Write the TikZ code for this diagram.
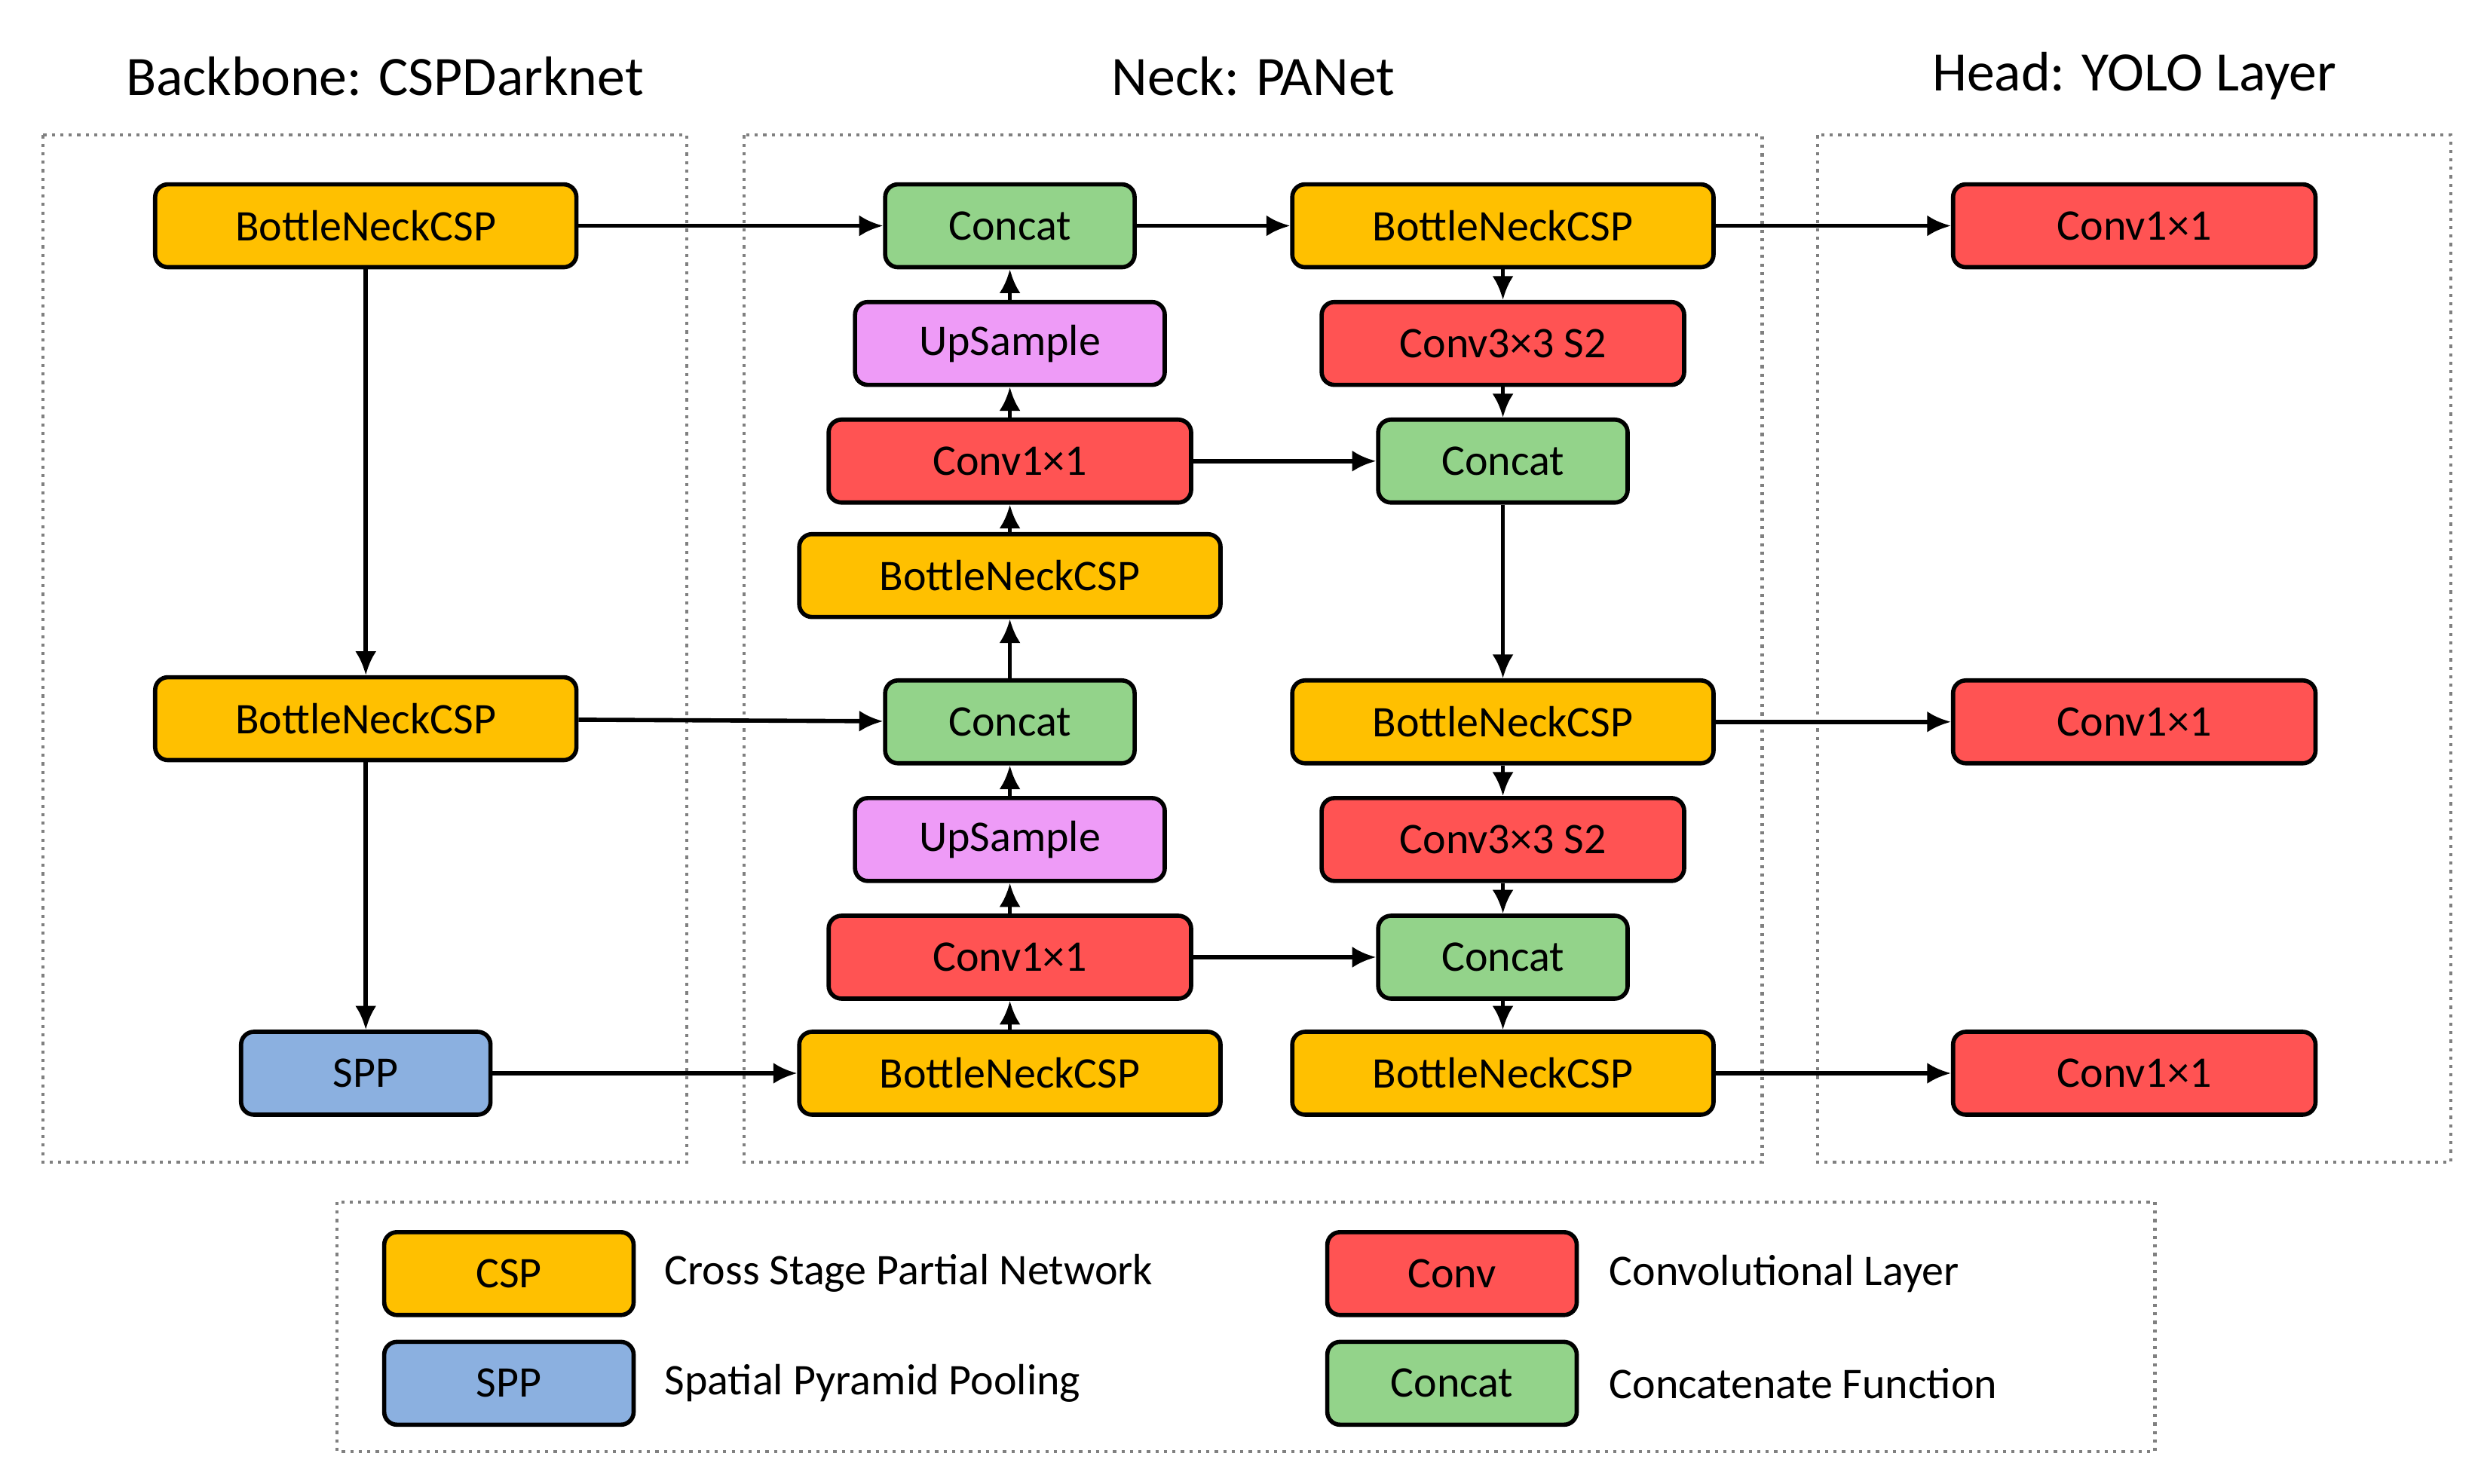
\documentclass[tikz,border=0pt]{standalone}
\usepackage{fontspec}
\setmainfont{Carlito}
\usetikzlibrary{arrows.meta}
\definecolor{cor}{HTML}{FFC000}
\definecolor{cre}{HTML}{FF5353}
\definecolor{cgr}{HTML}{93D38A}
\definecolor{cvi}{HTML}{EE9BF7}
\definecolor{cbl}{HTML}{8BB0E0}
\begin{document}
\begin{tikzpicture}[x=0.0211cm,y=-0.0211cm,
 b/.style={draw=black,line width=1.6pt,rounded corners=0.17cm,minimum height=1.1cm,inner sep=0pt,font=\fontsize{16.5}{18}\selectfont},
 csp/.style={b,fill=cor,minimum width=5.59cm},
 cv/.style={b,fill=cre,minimum width=4.81cm},
 cc/.style={b,fill=cgr,minimum width=3.31cm},
 up/.style={b,fill=cvi,minimum width=4.11cm},
 sp/.style={b,fill=cbl,minimum width=3.31cm},
 lg/.style={b,minimum width=3.31cm},
 fr/.style={draw=gray,line width=1.2pt,dotted},
 ttl/.style={font=\fontsize{21}{24}\selectfont},
 lt/.style={anchor=west,font=\fontsize{16.5}{18}\selectfont},
 a/.style={-{Latex[length=9pt,width=8pt]},line width=1.6pt}]
\useasboundingbox (0,0) rectangle (1560,933);
\draw[fr] (27,85) rectangle (432,731);
\draw[fr] (468,85) rectangle (1108,731);
\draw[fr] (1143,85) rectangle (1541,731);
\draw[fr] (212,756) rectangle (1355,913);
\node[ttl] (t1) at (242,48) {Backbone: CSPDarknet};
\node[ttl] (t2) at (788,48) {Neck: PANet};
\node[ttl] (t3) at (1342,48) {Head: YOLO Layer};
% backbone
\node[csp] (b1) at (230,142) {BottleNeckCSP};
\node[csp] (b2) at (230,452) {BottleNeckCSP};
\node[sp] (spp) at (230,675) {SPP};
% neck left
\node[cc] (l1) at (635,142) {Concat};
\node[up] (l2) at (635,216) {UpSample};
\node[cv] (l3) at (635,290) {Conv1×1};
\node[csp] (l4) at (635,362) {BottleNeckCSP};
\node[cc] (l5) at (635,454) {Concat};
\node[up] (l6) at (635,528) {UpSample};
\node[cv] (l7) at (635,602) {Conv1×1};
\node[csp] (l8) at (635,675) {BottleNeckCSP};
% neck right
\node[csp] (r1) at (945,142) {BottleNeckCSP};
\node[cv] (r2) at (945,216) {Conv3×3 S2};
\node[cc] (r3) at (945,290) {Concat};
\node[csp] (r4) at (945,454) {BottleNeckCSP};
\node[cv] (r5) at (945,528) {Conv3×3 S2};
\node[cc] (r6) at (945,602) {Concat};
\node[csp] (r7) at (945,675) {BottleNeckCSP};
% head
\node[cv] (h1) at (1342,142) {Conv1×1};
\node[cv] (h2) at (1342,454) {Conv1×1};
\node[cv] (h3) at (1342,675) {Conv1×1};
% arrows
\draw[a] (b1) -- (l1);
\draw[a] (l1) -- (r1);
\draw[a] (r1) -- (h1);
\draw[a] (b1) -- (b2);
\draw[a] (b2) -- (l5);
\draw[a] (b2) -- (spp);
\draw[a] (spp) -- (l8);
\draw[a] (l8) -- (l7);
\draw[a] (l7) -- (l6);
\draw[a] (l6) -- (l5);
\draw[a] (l5) -- (l4);
\draw[a] (l4) -- (l3);
\draw[a] (l3) -- (l2);
\draw[a] (l2) -- (l1);
\draw[a] (l3) -- (r3);
\draw[a] (l7) -- (r6);
\draw[a] (r1) -- (r2);
\draw[a] (r2) -- (r3);
\draw[a] (r3) -- (r4);
\draw[a] (r4) -- (r5);
\draw[a] (r5) -- (r6);
\draw[a] (r6) -- (r7);
\draw[a] (r4) -- (h2);
\draw[a] (r7) -- (h3);
% legend
\node[lg,fill=cor] (k1) at (320,801) {CSP};
\node[lt] (k1t) at (412,801) {Cross Stage Partial Network};
\node[lg,fill=cre] (k2) at (913,801) {Conv};
\node[lt] (k2t) at (1006,801) {Convolutional Layer};
\node[lg,fill=cbl] (k3) at (320,870) {SPP};
\node[lt] (k3t) at (412,870) {Spatial Pyramid Pooling};
\node[lg,fill=cgr] (k4) at (913,870) {Concat};
\node[lt] (k4t) at (1006,870) {Concatenate Function};
\end{tikzpicture}
\end{document}
